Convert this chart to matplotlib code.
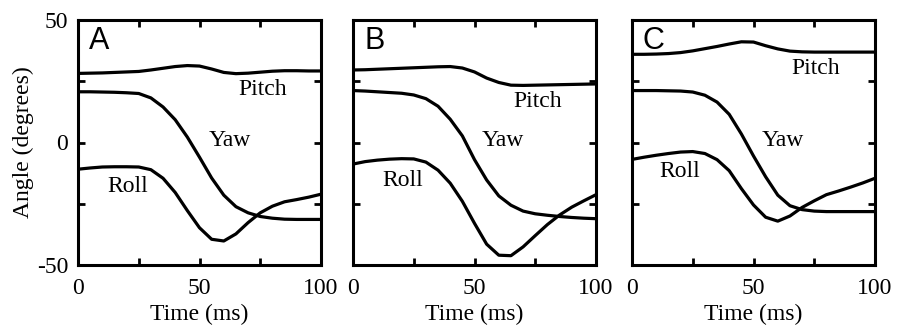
import matplotlib
matplotlib.use("Agg")
import matplotlib.pyplot as plt

time_ms = [0, 5, 10, 15, 20, 25, 30, 35, 40, 45, 50, 55, 60, 65, 70, 75, 80, 85, 90, 95, 100]

pitch_a = [28.2, 28.3, 28.4, 28.6, 28.8, 29.0, 29.6, 30.3, 31.0, 31.4, 31.2, 30.0, 28.6, 28.1, 28.3, 28.7, 29.1, 29.3, 29.3, 29.2, 29.2]
yaw_a = [20.7, 20.7, 20.6, 20.5, 20.3, 20.0, 18.2, 14.5, 9.3, 2.2, -6.0, -14.5, -21.5, -26.2, -28.7, -30.2, -30.9, -31.3, -31.4, -31.4, -31.4]
roll_a = [-10.9, -10.4, -10.0, -9.9, -9.9, -10.0, -11.1, -14.6, -20.4, -27.8, -34.8, -39.5, -40.2, -37.3, -32.7, -28.7, -26.0, -24.2, -23.3, -22.3, -21.1]

pitch_b = [29.6, 29.7, 29.9, 30.1, 30.3, 30.5, 30.7, 30.9, 31.0, 30.4, 28.8, 26.3, 24.5, 23.4, 23.3, 23.4, 23.5, 23.6, 23.7, 23.8, 23.9]
yaw_b = [21.2, 21.0, 20.7, 20.4, 20.1, 19.4, 17.9, 14.8, 9.5, 2.7, -7.0, -15.3, -21.8, -25.6, -28.0, -29.1, -29.7, -30.2, -30.6, -30.9, -31.1]
roll_b = [-8.8, -7.8, -7.2, -6.8, -6.6, -6.7, -8.0, -11.3, -16.6, -24.0, -33.0, -41.5, -46.0, -46.2, -42.6, -38.0, -33.5, -29.6, -26.4, -23.8, -21.3]

pitch_c = [36.0, 36.0, 36.1, 36.3, 36.7, 37.4, 38.3, 39.2, 40.2, 41.1, 41.0, 39.5, 38.2, 37.3, 37.0, 36.9, 36.9, 36.9, 36.9, 36.9, 36.9]
yaw_c = [21.2, 21.2, 21.2, 21.1, 21.0, 20.6, 19.3, 16.5, 11.5, 3.5, -5.5, -14.0, -21.5, -25.8, -27.4, -28.0, -28.2, -28.2, -28.2, -28.2, -28.2]
roll_c = [-6.9, -6.0, -5.2, -4.5, -3.9, -3.7, -4.5, -7.0, -11.5, -18.8, -25.5, -30.5, -32.1, -30.0, -26.5, -23.8, -21.3, -19.8, -18.2, -16.5, -14.6]

panel_letters = ["A", "B", "C"]
x_ticks = [0, 25, 50, 75, 100]
x_ticklabels = ["0", "", "50", "", "100"]
y_ticks = [-50, -25, 0, 25, 50]
y_ticklabels = ["-50", "", "0", "", "50"]

series = [(pitch_a, yaw_a, roll_a), (pitch_b, yaw_b, roll_b), (pitch_c, yaw_c, roll_c)]
# label positions (data coords)
label_pos = [
    {"Pitch": (75.8, 21.7), "Yaw": (62.4, 1), "Roll": (20.3, -18)},
    {"Pitch": (76, 16.6), "Yaw": (61.5, 1), "Roll": (20.3, -15.4)},
    {"Pitch": (75.6, 30.2), "Yaw": (62, 1), "Roll": (19.8, -12)},
]

serif = ["Liberation Serif", "DejaVu Serif"]
sans = ["Liberation Sans", "DejaVu Sans"]
fs = 17

fig = plt.figure(figsize=(9.11, 3.27), dpi=100)
lefts = [78 / 911, 353 / 911, 632 / 911]
w = 243 / 911
b = 1 - 265 / 327
h = 245 / 327

for i, (pitch, yaw, roll) in enumerate(series):
    ax = fig.add_axes([lefts[i], b, w, h])
    for ys in (pitch, yaw, roll):
        ax.plot(time_ms, ys, color="black", lw=2.3, solid_joinstyle="round", solid_capstyle="butt")
    ax.set_xlim(0, 100)
    ax.set_ylim(-50, 50)
    ax.set_xticks(x_ticks)
    ax.set_xticklabels(x_ticklabels, fontfamily=serif, fontsize=fs)
    ax.set_yticks(y_ticks)
    if i == 0:
        ax.set_yticklabels(y_ticklabels, fontfamily=serif, fontsize=fs)
        ax.set_ylabel("Angle (degrees)", fontfamily=serif, fontsize=fs, labelpad=2)
    else:
        ax.set_yticklabels([])
    ax.tick_params(direction="in", length=5, width=2, top=True, right=True)
    ax.tick_params(axis="x", pad=9)
    ax.tick_params(axis="y", pad=7)
    for sp in ax.spines.values():
        sp.set_linewidth(2.2)
    ax.set_xlabel("Time (ms)", fontfamily=serif, fontsize=fs, labelpad=4)
    for name, (lx, ly) in label_pos[i].items():
        ax.text(lx, ly, name, fontfamily=serif, fontsize=fs, ha="center", va="center")
    ax.text(8.7, 41.5, panel_letters[i], fontfamily=sans, fontsize=22, ha="center", va="center")

fig.savefig("out.png", dpi=100)
